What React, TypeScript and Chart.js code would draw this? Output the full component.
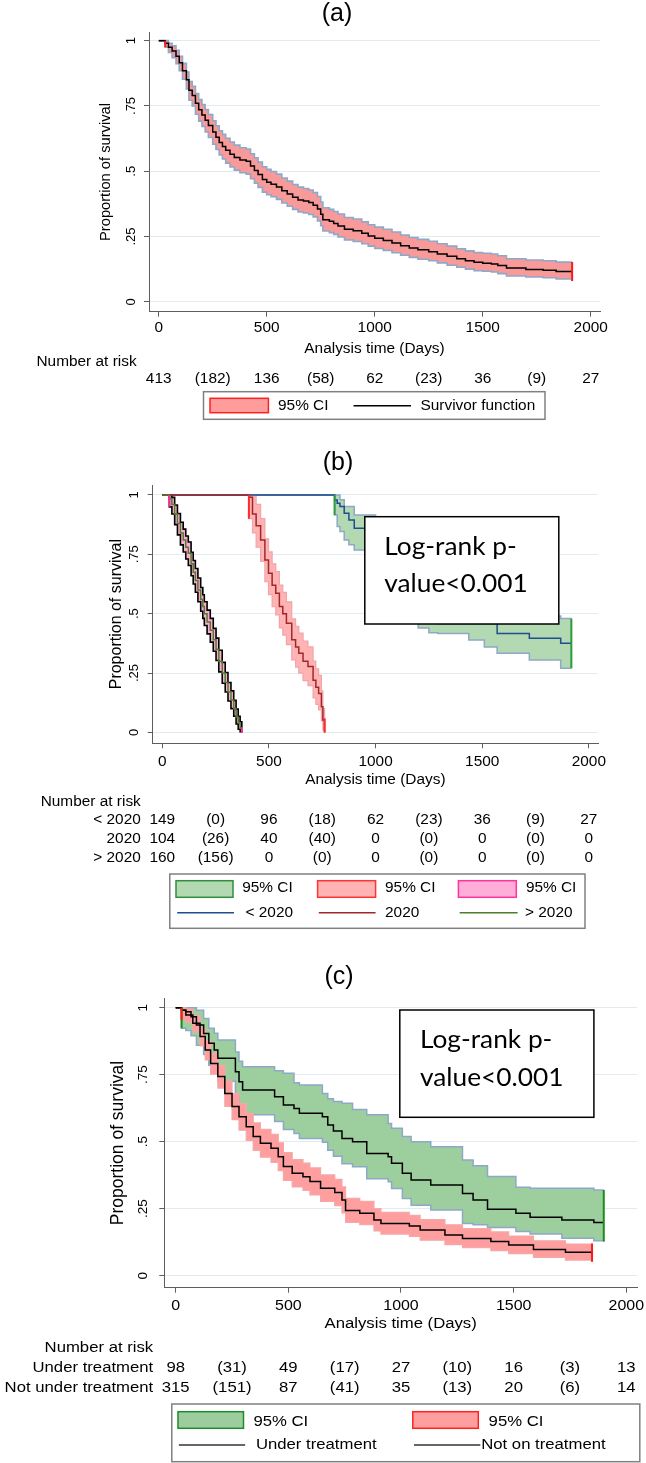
import React, { useEffect, useRef } from "react";
import { Chart, registerables } from "chart.js";

Chart.register(...registerables);

const SANS = "'Liberation Sans', Arial, Helvetica, sans-serif";
const BOXFONT = "Lato, 'Open Sans', sans-serif";
const AXIS = "#5e5e5e";
const GRID = "#e2ecee";
const OUTLINE = "#8ea8c8";

// ---------- shared axis data ----------
const xTickValues = [0, 500, 1000, 1500, 2000];
const xTickLabels = ["0", "500", "1000", "1500", "2000"];
const yTickValues = [0, 0.25, 0.5, 0.75, 1];
const yTickLabels = ["0", ".25", ".5", ".75", "1"];
const riskTimes = [0, 250, 500, 750, 1000, 1250, 1500, 1750, 2000];
const yAxisTitle = "Proportion of survival";
const xAxisTitle = "Analysis time (Days)";
const riskHeader = "Number at risk";
const logRankLines = ["Log-rank p-", "value<0.001"];

// ---------- panel (a): overall ----------
const timeA = [0, 20, 30, 45, 62, 80, 95, 110, 128, 140, 155, 170, 185, 200, 215, 230, 250, 265, 280, 295, 310, 330, 350, 376, 405, 425, 443, 460, 480, 500, 520, 545, 570, 595, 620, 645, 670, 695, 715, 735, 750, 760, 790, 810, 830, 860, 900, 940, 970, 1000, 1040, 1080, 1120, 1160, 1200, 1250, 1290, 1335, 1380, 1420, 1460, 1500, 1540, 1570, 1610, 1700, 1780, 1840, 1914];
const survA = [1, 1, 0.99, 0.975, 0.96, 0.94, 0.915, 0.885, 0.85, 0.81, 0.79, 0.76, 0.735, 0.715, 0.695, 0.675, 0.65, 0.63, 0.61, 0.595, 0.58, 0.565, 0.553, 0.543, 0.538, 0.52, 0.503, 0.487, 0.468, 0.458, 0.45, 0.44, 0.425, 0.413, 0.4, 0.39, 0.386, 0.38, 0.37, 0.355, 0.335, 0.314, 0.308, 0.3, 0.29, 0.278, 0.272, 0.262, 0.252, 0.243, 0.235, 0.225, 0.215, 0.206, 0.199, 0.192, 0.183, 0.174, 0.165, 0.157, 0.151, 0.148, 0.145, 0.139, 0.129, 0.124, 0.121, 0.116, 0.11];
const lowA = [1, 1, 0.975, 0.955, 0.935, 0.912, 0.885, 0.852, 0.815, 0.772, 0.75, 0.718, 0.692, 0.671, 0.65, 0.629, 0.603, 0.583, 0.562, 0.547, 0.531, 0.516, 0.504, 0.494, 0.489, 0.471, 0.454, 0.438, 0.42, 0.41, 0.402, 0.392, 0.378, 0.366, 0.354, 0.344, 0.34, 0.334, 0.325, 0.31, 0.291, 0.271, 0.265, 0.258, 0.248, 0.237, 0.231, 0.222, 0.213, 0.204, 0.197, 0.188, 0.178, 0.17, 0.163, 0.157, 0.149, 0.14, 0.132, 0.125, 0.119, 0.117, 0.114, 0.108, 0.099, 0.095, 0.092, 0.087, 0.08];
const highA = [1, 1, 1, 0.99, 0.98, 0.963, 0.94, 0.913, 0.88, 0.843, 0.825, 0.797, 0.774, 0.755, 0.736, 0.717, 0.693, 0.674, 0.655, 0.641, 0.626, 0.612, 0.6, 0.59, 0.585, 0.567, 0.551, 0.535, 0.517, 0.507, 0.499, 0.489, 0.474, 0.462, 0.449, 0.439, 0.434, 0.428, 0.418, 0.403, 0.382, 0.36, 0.354, 0.346, 0.336, 0.323, 0.317, 0.306, 0.295, 0.286, 0.278, 0.267, 0.256, 0.246, 0.239, 0.232, 0.222, 0.213, 0.203, 0.195, 0.189, 0.186, 0.183, 0.176, 0.165, 0.16, 0.157, 0.152, 0.152];
const riskA = ["413", "(182)", "136", "(58)", "62", "(23)", "36", "(9)", "27"];

// ---------- panel (b): by year ----------
const timeB1 = [0, 808, 820, 833, 853, 875, 900, 950, 1000, 1050, 1100, 1150, 1200, 1250, 1293, 1437, 1510, 1570, 1721, 1868, 1918];
const survB1 = [1, 0.979, 0.965, 0.951, 0.923, 0.895, 0.86, 0.838, 0.78, 0.72, 0.66, 0.6, 0.55, 0.5, 0.459, 0.459, 0.459, 0.417, 0.396, 0.375, 0.375];
const lowB1 = [1, 0.916, 0.867, 0.846, 0.81, 0.79, 0.768, 0.747, 0.68, 0.61, 0.55, 0.49, 0.44, 0.42, 0.417, 0.389, 0.36, 0.333, 0.305, 0.27, 0.27];
const highB1 = [1, 1, 1, 0.98, 0.951, 0.951, 0.916, 0.916, 0.88, 0.83, 0.77, 0.71, 0.65, 0.6, 0.53, 0.53, 0.53, 0.5, 0.49, 0.48, 0.48];

const timeB2 = [0, 406, 423, 440, 461, 481, 498, 515, 532, 549, 565, 582, 607, 625, 640, 660, 683, 707, 720, 733, 746, 753, 761];
const survB2 = [1, 0.99, 0.92, 0.87, 0.81, 0.726, 0.67, 0.62, 0.586, 0.53, 0.5, 0.46, 0.39, 0.36, 0.333, 0.3, 0.277, 0.22, 0.19, 0.164, 0.108, 0.052, 0];
const lowB2 = [1, 0.9, 0.84, 0.78, 0.72, 0.635, 0.58, 0.53, 0.495, 0.44, 0.41, 0.37, 0.305, 0.275, 0.25, 0.218, 0.197, 0.145, 0.118, 0.095, 0.048, 0.01, 0];
const highB2 = [1, 1, 1, 0.96, 0.9, 0.815, 0.76, 0.71, 0.677, 0.62, 0.59, 0.55, 0.478, 0.447, 0.418, 0.385, 0.36, 0.3, 0.268, 0.24, 0.175, 0.1, 0.06];

const timeB3 = [0, 33, 45, 58, 71, 85, 98, 110, 122, 135, 145, 155, 167, 180, 190, 197, 210, 225, 239, 252, 265, 281, 295, 308, 322, 335, 346, 356, 365, 373];
const survB3 = [1, 0.985, 0.96, 0.92, 0.88, 0.84, 0.81, 0.78, 0.754, 0.71, 0.675, 0.64, 0.6, 0.56, 0.53, 0.5, 0.465, 0.43, 0.39, 0.35, 0.3, 0.25, 0.21, 0.17, 0.136, 0.1, 0.065, 0.038, 0.02, 0];
const lowB3 = [1, 0.95, 0.92, 0.875, 0.832, 0.79, 0.76, 0.73, 0.703, 0.66, 0.625, 0.59, 0.55, 0.51, 0.48, 0.45, 0.415, 0.38, 0.342, 0.303, 0.255, 0.207, 0.17, 0.132, 0.1, 0.068, 0.036, 0.013, 0.003, 0];
const highB3 = [1, 1, 0.99, 0.958, 0.922, 0.885, 0.856, 0.827, 0.802, 0.758, 0.724, 0.69, 0.65, 0.61, 0.58, 0.55, 0.515, 0.48, 0.438, 0.397, 0.346, 0.295, 0.252, 0.21, 0.175, 0.135, 0.098, 0.068, 0.045, 0.02];

const groupLabelsB = ["< 2020", "2020", "> 2020"];
const riskB1 = ["149", "(0)", "96", "(18)", "62", "(23)", "36", "(9)", "27"];
const riskB2 = ["104", "(26)", "40", "(40)", "0", "(0)", "0", "(0)", "0"];
const riskB3 = ["160", "(156)", "0", "(0)", "0", "(0)", "0", "(0)", "0"];

// ---------- panel (c): by treatment ----------
const timeC1 = [0, 26, 45, 68, 92, 124, 147, 171, 187, 265, 281, 297, 439, 478, 525, 549, 651, 675, 700, 738, 785, 848, 943, 958, 1006, 1045, 1132, 1273, 1320, 1384, 1510, 1573, 1714, 1856, 1900];
const survC1 = [1, 0.99, 0.985, 0.966, 0.935, 0.904, 0.867, 0.842, 0.811, 0.761, 0.724, 0.693, 0.668, 0.637, 0.624, 0.606, 0.593, 0.562, 0.54, 0.512, 0.5, 0.456, 0.444, 0.419, 0.382, 0.357, 0.338, 0.307, 0.282, 0.248, 0.233, 0.218, 0.208, 0.198, 0.198];
const lowC1 = [1, 0.923, 0.915, 0.895, 0.86, 0.825, 0.785, 0.757, 0.725, 0.672, 0.632, 0.6, 0.575, 0.545, 0.53, 0.512, 0.498, 0.468, 0.446, 0.418, 0.406, 0.362, 0.35, 0.325, 0.288, 0.263, 0.245, 0.195, 0.19, 0.18, 0.165, 0.155, 0.14, 0.13, 0.127];
const highC1 = [1, 1, 1, 1, 0.99, 0.96, 0.923, 0.905, 0.879, 0.835, 0.8, 0.78, 0.765, 0.755, 0.72, 0.711, 0.68, 0.66, 0.65, 0.643, 0.62, 0.6, 0.568, 0.55, 0.519, 0.5, 0.481, 0.432, 0.41, 0.37, 0.33, 0.326, 0.326, 0.32, 0.32];

const timeC2 = [0, 26, 45, 76, 108, 131, 155, 187, 218, 250, 281, 313, 344, 376, 423, 455, 478, 517, 565, 596, 643, 706, 738, 754, 817, 880, 911, 1037, 1085, 1195, 1273, 1399, 1478, 1588, 1730, 1848];
const survC2 = [1, 0.99, 0.973, 0.942, 0.892, 0.842, 0.792, 0.743, 0.68, 0.631, 0.593, 0.556, 0.519, 0.494, 0.475, 0.444, 0.407, 0.382, 0.369, 0.351, 0.326, 0.31, 0.282, 0.243, 0.233, 0.208, 0.195, 0.185, 0.17, 0.152, 0.139, 0.127, 0.114, 0.098, 0.087, 0.08];
const lowC2 = [1, 0.955, 0.945, 0.91, 0.857, 0.805, 0.752, 0.7, 0.632, 0.582, 0.543, 0.505, 0.467, 0.442, 0.423, 0.392, 0.355, 0.331, 0.318, 0.301, 0.277, 0.261, 0.234, 0.199, 0.19, 0.167, 0.155, 0.146, 0.132, 0.116, 0.104, 0.093, 0.082, 0.068, 0.058, 0.052];
const highC2 = [1, 1, 0.995, 0.97, 0.925, 0.877, 0.83, 0.785, 0.727, 0.679, 0.642, 0.606, 0.57, 0.546, 0.527, 0.496, 0.459, 0.433, 0.42, 0.402, 0.376, 0.359, 0.331, 0.288, 0.277, 0.25, 0.236, 0.225, 0.209, 0.19, 0.176, 0.163, 0.148, 0.13, 0.118, 0.12];

const groupLabelsC = ["Under treatment", "Not under treatment"];
const legendLabelsC = ["Under treatment", "Not on treatment"];
const riskC1 = ["98", "(31)", "49", "(17)", "27", "(10)", "16", "(3)", "13"];
const riskC2 = ["315", "(151)", "87", "(41)", "35", "(13)", "20", "(6)", "14"];

// ---------- helpers ----------
type CurveStyle = { fill: string; outline: string; outlineW: number; line: string; lineW: number; tick: string };
type Curve = { t: number[]; s: number[]; lo: number[]; hi: number[]; st: CurveStyle };

// Kaplan-Meier steps: horizontal first, then the drop (Chart.js "before" mode)
const STEP = "before";

function buildDatasets(curves: Curve[]) {
  const list: any[] = [];
  const xy = (t: number[], v: number[]) => t.map((x, i) => ({ x, y: v[i] }));
  curves.forEach((c) => {
    list.push({ data: xy(c.t, c.hi), stepped: STEP, borderColor: c.st.outline, borderWidth: c.st.outlineW, backgroundColor: c.st.fill, fill: "+1", pointRadius: 0 });
    list.push({ data: xy(c.t, c.lo), stepped: STEP, borderColor: c.st.outline, borderWidth: c.st.outlineW, fill: false, pointRadius: 0 });
  });
  curves.forEach((c) => {
    list.push({ data: xy(c.t, c.s), stepped: STEP, borderColor: c.st.line, borderWidth: c.st.lineW, fill: false, pointRadius: 0 });
  });
  curves.forEach((c) => {
    const k = c.lo.findIndex((v) => v < 1);
    const n = c.t.length - 1;
    list.push({ data: [{ x: c.t[k], y: c.lo[k] }, { x: c.t[k], y: c.hi[k - 1] }], borderColor: c.st.tick, borderWidth: 2, fill: false, pointRadius: 0 });
    list.push({ data: [{ x: c.t[n], y: c.lo[n] }, { x: c.t[n], y: c.hi[n] }], borderColor: c.st.tick, borderWidth: 2, fill: false, pointRadius: 0 });
  });
  const N = list.length;
  list.forEach((d, i) => { d.order = N - i; });
  return list;
}

function txt(ctx: CanvasRenderingContext2D, s: string, x: number, y: number, size: number, o: any = {}) {
  ctx.save();
  ctx.translate(x, y);
  if (o.rot) ctx.rotate(o.rot);
  if (o.sx && o.sx !== 1) ctx.scale(o.sx, 1);
  ctx.font = `${size}px ${o.family || SANS}`;
  ctx.fillStyle = o.color || "#000";
  ctx.textAlign = o.align || "left";
  ctx.textBaseline = o.base || "middle";
  ctx.fillText(s, 0, 0);
  ctx.restore();
}

type LegendEntry = { kind: "swatch" | "line"; x0: number; x1: number; y0: number; y1: number; fill?: string; stroke: string; text: string; tx: number; ty: number };
type Row = { label: string; values: string[] };

type PanelSpec = {
  top: number; h: number;
  left: number; right: number; ptop: number; pbottom: number;
  xmin: number; xmax: number; ymin: number; ymax: number;
  fs: number; tickFs: number; yTickFs: number; yTitleFs: number; sx: number;
  title: string; titleX: number; titleY: number; titleFs: number;
  yTickX: number; yTitleX: number; xTickY: number; xTitleY: number;
  headerY: number; rowLabelRight: number; rows: Row[]; rowYs: number[];
  legendBox: number[]; legend: LegendEntry[];
  logrank?: { x0: number; y0: number; x1: number; y1: number; tx: number; baselines: number[]; size: number };
  datasets: any[];
};

const W = 646;

const panelA: PanelSpec = {
  top: 0, h: 430,
  left: 149, right: 600, ptop: 32.3, pbottom: 311.7,
  xmin: -45, xmax: 2043, ymin: -0.038, ymax: 1.032,
  fs: 14, tickFs: 14, yTickFs: 13, yTitleFs: 14.7, sx: 1.1,
  title: "(a)", titleX: 337, titleY: 14, titleFs: 25,
  yTickX: 131, yTitleX: 106, xTickY: 328, xTitleY: 349.3,
  headerY: 362, rowLabelRight: 136.6,
  rows: [{ label: "", values: riskA }], rowYs: [379.3],
  legendBox: [203.5, 391.7, 545, 419.3],
  legend: [
    { kind: "swatch", x0: 210, x1: 268.4, y0: 398.3, y1: 412.7, fill: "#ff9d9d", stroke: "#ff2020", text: "95% CI", tx: 278, ty: 406 },
    { kind: "line", x0: 353.5, x1: 411, y0: 405.7, y1: 405.7, stroke: "#000", text: "Survivor function", tx: 420.5, ty: 406 },
  ],
  datasets: buildDatasets([
    { t: timeA, s: survA, lo: lowA, hi: highA, st: { fill: "#f99a9a", outline: OUTLINE, outlineW: 1.6, line: "#000", lineW: 1.5, tick: "#ff1a1a" } },
  ]),
};

const panelB: PanelSpec = {
  top: 430, h: 510,
  left: 152.7, right: 598, ptop: 55, pbottom: 313.3,
  xmin: -45, xmax: 2043, ymin: -0.046, ymax: 1.042,
  fs: 14, tickFs: 14, yTickFs: 13, yTitleFs: 16, sx: 1.1,
  title: "(b)", titleX: 338, titleY: 33, titleFs: 25,
  yTickX: 134.6, yTitleX: 117, xTickY: 332, xTitleY: 350,
  headerY: 371.7, rowLabelRight: 140.8,
  rows: [
    { label: groupLabelsB[0], values: riskB1 },
    { label: groupLabelsB[1], values: riskB2 },
    { label: groupLabelsB[2], values: riskB3 },
  ],
  rowYs: [390, 409.3, 428.3],
  legendBox: [169.8, 444, 585, 498.3],
  legend: [
    { kind: "swatch", x0: 176, x1: 233, y0: 450.7, y1: 467.3, fill: "#b3d9b3", stroke: "#2f8f3f", text: "95% CI", tx: 242.2, ty: 458.3 },
    { kind: "swatch", x0: 317.6, x1: 375.6, y0: 450.7, y1: 467.3, fill: "#ffb3b3", stroke: "#ff3333", text: "95% CI", tx: 385, ty: 458.3 },
    { kind: "swatch", x0: 458.4, x1: 516.3, y0: 450.7, y1: 467.3, fill: "#ffaed9", stroke: "#ff3399", text: "95% CI", tx: 525.9, ty: 458.3 },
    { kind: "line", x0: 177.2, x1: 234, y0: 482.7, y1: 482.7, stroke: "#1f4e8c", text: groupLabelsB[0], tx: 245.5, ty: 483.3 },
    { kind: "line", x0: 318.8, x1: 375.6, y0: 482.7, y1: 482.7, stroke: "#a0282d", text: groupLabelsB[1], tx: 385, ty: 483.3 },
    { kind: "line", x0: 459.6, x1: 517.6, y0: 482.7, y1: 482.7, stroke: "#4f7d2a", text: groupLabelsB[2], tx: 525, ty: 483.3 },
  ],
  logrank: { x0: 364.8, y0: 86.7, x1: 558.8, y1: 194, tx: 384.3, baselines: [125, 161.7], size: 25.5 },
  datasets: buildDatasets([
    { t: timeB1, s: survB1, lo: lowB1, hi: highB1, st: { fill: "#b2d9b2", outline: OUTLINE, outlineW: 1.5, line: "#1f4e8c", lineW: 1.5, tick: "#2e9a3a" } },
    { t: timeB2, s: survB2, lo: lowB2, hi: highB2, st: { fill: "#ffb3b3", outline: "#f2a4aa", outlineW: 1.2, line: "#a0282d", lineW: 1.5, tick: "#ff2a2a" } },
    { t: timeB3, s: survB3, lo: lowB3, hi: highB3, st: { fill: "#ffaad6", outline: "#000", outlineW: 1.6, line: "#4f7d2a", lineW: 1.5, tick: "#ff2a99" } },
  ]),
};

const panelC: PanelSpec = {
  top: 940, h: 523,
  left: 164.3, right: 637, ptop: 58.3, pbottom: 347.7,
  xmin: -50.6, xmax: 2047.5, ymin: -0.045, ymax: 1.035,
  fs: 15.2, tickFs: 14.5, yTickFs: 13.5, yTitleFs: 17.5, sx: 1.1,
  title: "(c)", titleX: 339, titleY: 37, titleFs: 25,
  yTickX: 143, yTitleX: 118.4, xTickY: 366, xTitleY: 384,
  headerY: 408.3, rowLabelRight: 153.2,
  rows: [
    { label: groupLabelsC[0], values: riskC1 },
    { label: groupLabelsC[1], values: riskC2 },
  ],
  rowYs: [428.3, 448.3],
  legendBox: [171.8, 464, 639.8, 521.7],
  legend: [
    { kind: "swatch", x0: 178, x1: 243.5, y0: 471.7, y1: 488.3, fill: "#9dcd9d", stroke: "#1f8c2a", text: "95% CI", tx: 253.4, ty: 481.7 },
    { kind: "swatch", x0: 412.8, x1: 478.3, y0: 471.7, y1: 488.3, fill: "#ff9e9e", stroke: "#ff2222", text: "95% CI", tx: 488.6, ty: 481.7 },
    { kind: "line", x0: 178.9, x1: 245.1, y0: 505, y1: 505, stroke: "#333", text: legendLabelsC[0], tx: 255.9, ty: 505 },
    { kind: "line", x0: 414, x1: 480.3, y0: 505, y1: 505, stroke: "#333", text: legendLabelsC[1], tx: 481.2, ty: 505 },
  ],
  logrank: { x0: 399.8, y0: 70, x1: 593.9, y1: 177.3, tx: 420, baselines: [108.3, 146], size: 25.5 },
  datasets: buildDatasets([
    { t: timeC1, s: survC1, lo: lowC1, hi: highC1, st: { fill: "#9dce9d", outline: OUTLINE, outlineW: 1.5, line: "#000", lineW: 1.5, tick: "#1a8c1a" } },
    { t: timeC2, s: survC2, lo: lowC2, hi: highC2, st: { fill: "#ff9e9e", outline: "#f4a8a8", outlineW: 1.2, line: "#000", lineW: 1.5, tick: "#ff1a1a" } },
  ]),
};

function overlay(p: PanelSpec) {
  return {
    id: "overlay",
    afterDraw(chart: any) {
      const ctx: CanvasRenderingContext2D = chart.ctx;
      const xs = chart.scales.x;
      const ys = chart.scales.y;
      const ca = chart.chartArea;
      txt(ctx, p.title, p.titleX, p.titleY, p.titleFs, { align: "center" });
      xTickValues.forEach((v, i) => txt(ctx, xTickLabels[i], xs.getPixelForValue(v), p.xTickY, p.tickFs, { align: "center", sx: p.sx }));
      yTickValues.forEach((v, i) => txt(ctx, yTickLabels[i], p.yTickX, ys.getPixelForValue(v), p.yTickFs, { align: "center", rot: -Math.PI / 2 }));
      txt(ctx, yAxisTitle, p.yTitleX, (ca.top + ca.bottom) / 2, p.yTitleFs, { align: "center", rot: -Math.PI / 2 });
      txt(ctx, xAxisTitle, (ca.left + ca.right) / 2, p.xTitleY, p.fs, { align: "center", sx: p.sx });
      txt(ctx, riskHeader, p.rowLabelRight, p.headerY, p.fs, { align: "right", sx: p.sx });
      p.rows.forEach((row, r) => {
        if (row.label) txt(ctx, row.label, p.rowLabelRight, p.rowYs[r], p.fs, { align: "right", sx: p.sx });
        row.values.forEach((val, i) => txt(ctx, val, xs.getPixelForValue(riskTimes[i]), p.rowYs[r], p.fs, { align: "center", sx: p.sx }));
      });
      // legend
      const [bx0, by0, bx1, by1] = p.legendBox;
      ctx.save();
      ctx.fillStyle = "#fff";
      ctx.fillRect(bx0, by0, bx1 - bx0, by1 - by0);
      ctx.strokeStyle = "#808080";
      ctx.lineWidth = 1.5;
      ctx.strokeRect(bx0, by0, bx1 - bx0, by1 - by0);
      p.legend.forEach((e) => {
        if (e.kind === "swatch") {
          ctx.fillStyle = e.fill || "#fff";
          ctx.fillRect(e.x0, e.y0, e.x1 - e.x0, e.y1 - e.y0);
          ctx.strokeStyle = e.stroke;
          ctx.lineWidth = 1.5;
          ctx.strokeRect(e.x0, e.y0, e.x1 - e.x0, e.y1 - e.y0);
        } else {
          ctx.strokeStyle = e.stroke;
          ctx.lineWidth = 1.5;
          ctx.beginPath();
          ctx.moveTo(e.x0, e.y0);
          ctx.lineTo(e.x1, e.y1);
          ctx.stroke();
        }
        txt(ctx, e.text, e.tx, e.ty, p.fs, { align: "left", sx: p.sx });
      });
      ctx.restore();
      if (p.logrank) {
        const lr = p.logrank;
        ctx.save();
        ctx.fillStyle = "#fff";
        ctx.fillRect(lr.x0, lr.y0, lr.x1 - lr.x0, lr.y1 - lr.y0);
        ctx.strokeStyle = "#000";
        ctx.lineWidth = 1.5;
        ctx.strokeRect(lr.x0, lr.y0, lr.x1 - lr.x0, lr.y1 - lr.y0);
        ctx.restore();
        logRankLines.forEach((s, i) => txt(ctx, s, lr.tx, lr.baselines[i], lr.size, { family: BOXFONT, base: "alphabetic", sx: 1.03 }));
      }
    },
  };
}

function buildConfig(p: PanelSpec): any {
  const XH = 40;
  return {
    type: "line",
    data: { datasets: p.datasets },
    options: {
      animation: false,
      responsive: false,
      maintainAspectRatio: false,
      events: [],
      layout: { padding: { left: 0, top: p.ptop, right: W - p.right, bottom: p.h - p.pbottom - XH } },
      plugins: { legend: { display: false }, tooltip: { enabled: false }, title: { display: false } },
      elements: { point: { radius: 0, hoverRadius: 0 }, line: { tension: 0 } },
      scales: {
        x: {
          type: "linear", min: p.xmin, max: p.xmax,
          afterBuildTicks: (s: any) => { s.ticks = xTickValues.map((v) => ({ value: v })); },
          afterFit: (s: any) => { s.height = XH; },
          grid: { drawOnChartArea: false, drawTicks: true, tickLength: 5, tickColor: AXIS, color: AXIS, lineWidth: 1 },
          border: { display: true, color: AXIS, width: 1 },
          ticks: { display: false },
        },
        y: {
          type: "linear", min: p.ymin, max: p.ymax,
          afterBuildTicks: (s: any) => { s.ticks = yTickValues.map((v) => ({ value: v })); },
          afterFit: (s: any) => { s.width = p.left; },
          grid: { color: GRID, lineWidth: 1, drawTicks: true, tickLength: 5, tickColor: AXIS },
          border: { display: true, color: AXIS, width: 1 },
          ticks: { display: false },
        },
      },
    },
    plugins: [overlay(p)],
  };
}

function Panel({ spec }: { spec: PanelSpec }) {
  const ref = useRef<HTMLCanvasElement | null>(null);
  useEffect(() => {
    if (!ref.current) return;
    const chart = new Chart(ref.current, buildConfig(spec));
    return () => chart.destroy();
  }, [spec]);
  return (
    <canvas
      ref={ref}
      width={W}
      height={spec.h}
      style={{ position: "absolute", left: 0, top: spec.top, width: W, height: spec.h }}
    />
  );
}

export default function App() {
  return (
    <div style={{ position: "absolute", left: 0, top: 0, width: W, height: 1463, background: "#fff", overflow: "hidden" }}>
      <Panel spec={panelA} />
      <Panel spec={panelB} />
      <Panel spec={panelC} />
    </div>
  );
}
